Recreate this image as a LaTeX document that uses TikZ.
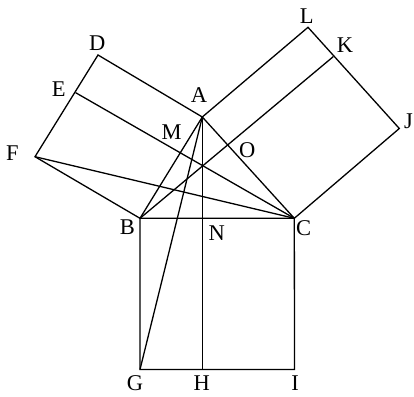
\documentclass[tikz,border=0pt]{standalone}
\usepackage{fontspec}
\setmainfont{Liberation Serif}
\begin{document}
\begin{tikzpicture}[x=1pt,y=-1pt,
  edge/.style={line width=1.3pt, line join=miter, line cap=butt},
  lbl/.style={font=\fontsize{22.5}{26}\selectfont, inner sep=0pt}]
\useasboundingbox (0,0) rectangle (414,396);
\coordinate (A) at (202.3,117);
\coordinate (B) at (140,218.3);
\coordinate (C) at (294.3,218.3);
\coordinate (D) at (98,55);
\coordinate (E) at (75.5,92.6);
\coordinate (F) at (35,156.7);
\coordinate (L) at (308,27.3);
\coordinate (K) at (333.3,56.6);
\coordinate (J) at (399.3,128.5);
\coordinate (G) at (140,369.5);
\coordinate (H) at (202.3,369.5);
\coordinate (I) at (294.5,369.5);
\coordinate (N) at (202.3,218.3);
% squares
\draw[edge] (A) -- (D) -- (F) -- (B) -- cycle;
\draw[edge] (A) -- (L) -- (J) -- (C) -- cycle;
\draw[edge] (B) -- (C) -- (I) -- (G) -- cycle;
% other lines
\draw[edge] (A) -- (N) -- (H);
\draw[edge] (E) -- (C);
\draw[edge] (B) -- (K);
\draw[edge] (F) -- (C);
\draw[edge] (A) -- (G);
% labels
\node[lbl] (lA) at (199,95) {A};
\node[lbl] (lB) at (127.3,227.5) {B};
\node[lbl] (lC) at (303.5,228.5) {C};
\node[lbl] (lD) at (97.3,43) {D};
\node[lbl] (lE) at (58.7,89) {E};
\node[lbl] (lF) at (12.5,153) {F};
\node[lbl] (lG) at (135,383.5) {G};
\node[lbl] (lH) at (201.7,383.5) {H};
\node[lbl] (lI) at (295,383.5) {I};
\node[lbl] (lJ) at (408.5,121) {J};
\node[lbl] (lK) at (345,45) {K};
\node[lbl] (lL) at (306.7,16.5) {L};
\node[lbl] (lM) at (171.7,131.7) {M};
\node[lbl] (lN) at (216.7,233.3) {N};
\node[lbl] (lO) at (247.3,150) {O};
\end{tikzpicture}
\end{document}
